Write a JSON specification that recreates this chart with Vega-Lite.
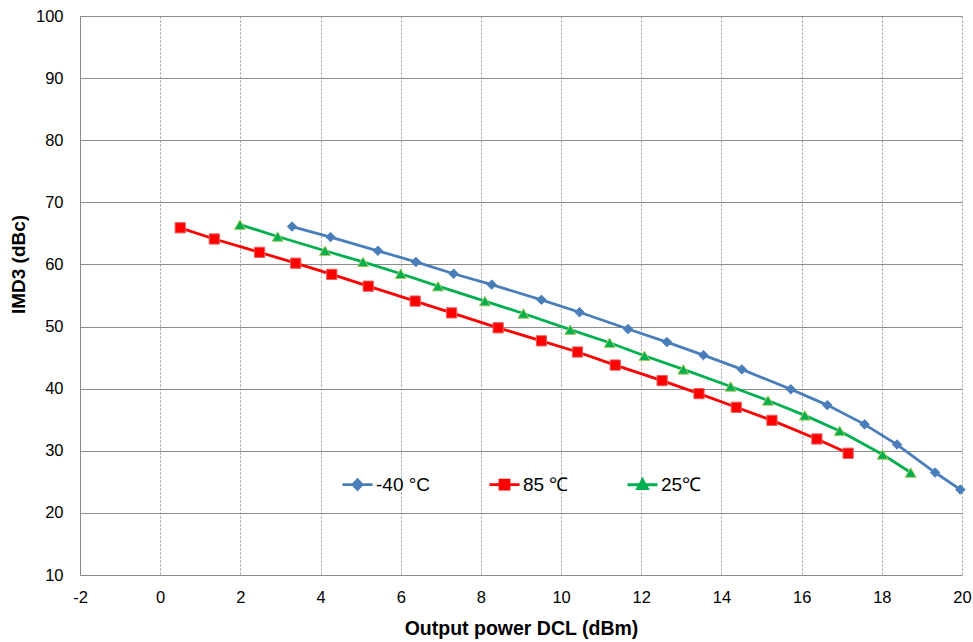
{
  "$schema": "https://vega.github.io/schema/vega-lite/v6.json",
  "width": 882,
  "height": 559,
  "autosize": {"type": "none"},
  "padding": {"left": 80, "top": 16, "right": 11, "bottom": 67},
  "background": "white",
  "config": {
    "view": {"stroke": null},
    "font": "Liberation Sans",
    "axis": {"labelColor": "black", "titleColor": "black", "domainColor": "#888888", "ticks": false, "labelFontSize": 16.5, "titleFontWeight": "bold"}
  },
  "data": {
    "values": [
      {"series": "-40 °C", "x": 3.29, "y": 66.1},
      {"series": "-40 °C", "x": 4.25, "y": 64.4},
      {"series": "-40 °C", "x": 5.43, "y": 62.2},
      {"series": "-40 °C", "x": 6.38, "y": 60.4},
      {"series": "-40 °C", "x": 7.32, "y": 58.5},
      {"series": "-40 °C", "x": 8.27, "y": 56.75},
      {"series": "-40 °C", "x": 9.51, "y": 54.3},
      {"series": "-40 °C", "x": 10.46, "y": 52.3},
      {"series": "-40 °C", "x": 11.67, "y": 49.6},
      {"series": "-40 °C", "x": 12.64, "y": 47.5},
      {"series": "-40 °C", "x": 13.55, "y": 45.4},
      {"series": "-40 °C", "x": 14.51, "y": 43.1},
      {"series": "-40 °C", "x": 15.73, "y": 39.9},
      {"series": "-40 °C", "x": 16.64, "y": 37.35},
      {"series": "-40 °C", "x": 17.57, "y": 34.25},
      {"series": "-40 °C", "x": 18.38, "y": 31.0},
      {"series": "-40 °C", "x": 19.33, "y": 26.5},
      {"series": "-40 °C", "x": 19.96, "y": 23.75},
      {"series": "85 ℃", "x": 0.5, "y": 65.9},
      {"series": "85 ℃", "x": 1.35, "y": 64.1},
      {"series": "85 ℃", "x": 2.48, "y": 61.95},
      {"series": "85 ℃", "x": 3.38, "y": 60.2},
      {"series": "85 ℃", "x": 4.28, "y": 58.4},
      {"series": "85 ℃", "x": 5.19, "y": 56.5},
      {"series": "85 ℃", "x": 6.36, "y": 54.1},
      {"series": "85 ℃", "x": 7.27, "y": 52.2},
      {"series": "85 ℃", "x": 8.43, "y": 49.8},
      {"series": "85 ℃", "x": 9.51, "y": 47.7},
      {"series": "85 ℃", "x": 10.41, "y": 45.9},
      {"series": "85 ℃", "x": 11.35, "y": 43.8},
      {"series": "85 ℃", "x": 12.52, "y": 41.3},
      {"series": "85 ℃", "x": 13.44, "y": 39.2},
      {"series": "85 ℃", "x": 14.37, "y": 37.0},
      {"series": "85 ℃", "x": 15.26, "y": 34.9},
      {"series": "85 ℃", "x": 16.38, "y": 31.9},
      {"series": "85 ℃", "x": 17.16, "y": 29.6},
      {"series": "25℃", "x": 1.99, "y": 66.4},
      {"series": "25℃", "x": 2.93, "y": 64.5},
      {"series": "25℃", "x": 4.11, "y": 62.2},
      {"series": "25℃", "x": 5.06, "y": 60.4},
      {"series": "25℃", "x": 6.0, "y": 58.5},
      {"series": "25℃", "x": 6.93, "y": 56.5},
      {"series": "25℃", "x": 8.1, "y": 54.1},
      {"series": "25℃", "x": 9.06, "y": 52.1},
      {"series": "25℃", "x": 10.23, "y": 49.5},
      {"series": "25℃", "x": 11.21, "y": 47.4},
      {"series": "25℃", "x": 12.08, "y": 45.3},
      {"series": "25℃", "x": 13.05, "y": 43.1},
      {"series": "25℃", "x": 14.23, "y": 40.35},
      {"series": "25℃", "x": 15.16, "y": 38.1},
      {"series": "25℃", "x": 16.08, "y": 35.7},
      {"series": "25℃", "x": 16.95, "y": 33.2},
      {"series": "25℃", "x": 18.02, "y": 29.4},
      {"series": "25℃", "x": 18.72, "y": 26.5}
    ]
  },
  "encoding": {
    "x": {
      "field": "x", "type": "quantitative",
      "scale": {"domain": [-2, 20], "nice": false, "zero": false},
      "axis": {
        "title": "Output power DCL (dBm)",
        "values": [-2, 0, 2, 4, 6, 8, 10, 12, 14, 16, 18, 20],
        "labelExpr": "'' + datum.value",
        "grid": true, "gridColor": "#999999", "gridDash": [2, 2], "gridWidth": 1,
        "titleFontSize": 19.5, "titleY": 44, "titleBaseline": "top",
        "labelPadding": 14, "labelFlush": false
      }
    },
    "y": {
      "field": "y", "type": "quantitative",
      "scale": {"domain": [10, 100], "nice": false, "zero": false},
      "axis": {
        "title": "IMD3 (dBc)",
        "values": [10, 20, 30, 40, 50, 60, 70, 80, 90, 100],
        "grid": true, "gridColor": "#8c8c8c", "gridWidth": 1,
        "titleFontSize": 19, "titleX": -52, "titleY": 248, "titleBaseline": "bottom", "titleAngle": -90, "titleAlign": "center",
        "labelPadding": 17, "labelFlush": false
      }
    }
  },
  "layer": [
    {
      "mark": {"type": "line", "strokeWidth": 2.8},
      "encoding": {
        "color": {
          "field": "series", "type": "nominal",
          "scale": {"domain": ["-40 °C", "85 ℃", "25℃"], "range": ["#4A7EBB", "#FF0000", "#00B050"]},
          "legend": {
            "title": null,
            "orient": "none",
            "direction": "horizontal",
            "legendX": 261,
            "legendY": 452,
            "padding": 0,
            "columnPadding": 52,
            "labelFontSize": 19,
            "labelColor": "black",
            "labelOffset": 2,
            "symbolSize": 900,
            "symbolStrokeWidth": 2.8,
            "encode": {
              "symbols": {
                "update": {
                  "shape": {"signal": "datum.value == '-40 °C' ? 'M-1,0L1,0M0,-0.32L0.3,0L0,0.32L-0.3,0Z' : datum.value == '85 ℃' ? 'M-1,0L1,0M-0.3,-0.3L0.3,-0.3L0.3,0.3L-0.3,0.3Z' : 'M-1,0L1,0M0,-0.33L0.33,0.26L-0.33,0.26Z'"},
                  "fill": {"signal": "datum.value == '-40 °C' ? '#4A7EBB' : datum.value == '85 ℃' ? '#FF0000' : '#00B050'"},
                  "stroke": {"signal": "datum.value == '-40 °C' ? '#4A7EBB' : datum.value == '85 ℃' ? '#FF0000' : '#00B050'"}
                }
              }
            }
          }
        }
      }
    },
    {
      "transform": [{"filter": "datum.series == '-40 °C'"}],
      "mark": {"type": "point", "filled": true, "opacity": 1, "shape": "diamond", "size": 90, "fill": "#4A7EBB", "stroke": "#4A7EBB", "strokeWidth": 1}
    },
    {
      "transform": [{"filter": "datum.series == '85 ℃'"}],
      "mark": {"type": "point", "filled": true, "opacity": 1, "shape": "square", "size": 105, "fill": "#FF0000", "stroke": "#E86060", "strokeWidth": 1}
    },
    {
      "transform": [{"filter": "datum.series == '25℃'"}],
      "mark": {"type": "point", "filled": true, "opacity": 1, "shape": "triangle-up", "size": 120, "fill": "#00B050", "stroke": "#A8C860", "strokeWidth": 1}
    }
  ]
}
